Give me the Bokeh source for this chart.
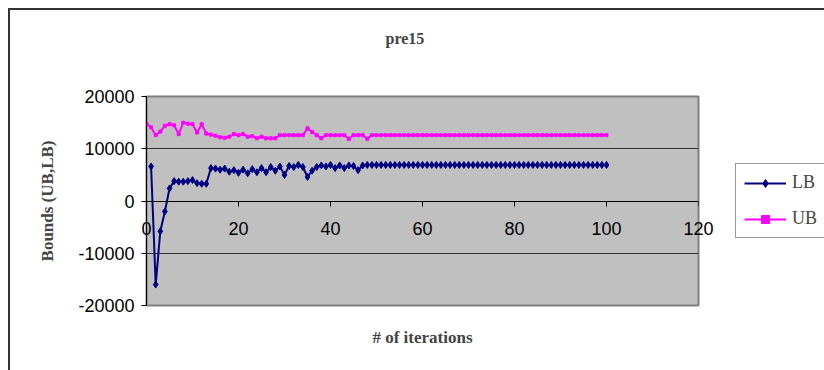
from bokeh.plotting import figure
from bokeh.models import (LinearAxis, FixedTicker, NumeralTickFormatter, Legend, LegendItem)
from bokeh.embed import file_html
from bokeh.resources import INLINE

title_text = "pre15"
x_label = "# of iterations"
y_label = "Bounds (UB,LB)"
x_ticks = [0, 20, 40, 60, 80, 100, 120]
y_ticks = [-20000, -10000, 0, 10000, 20000]

lb_iter = list(range(1, 101))
lb = [6600, -16000, -5800, -2000, 2400, 3800, 3700, 3700, 3800, 4000,
      3400, 3300, 3300, 6300, 6200, 6000, 6200, 5600, 5900, 5400,
      6000, 5300, 6100, 5500, 6300, 5500, 6500, 5800, 6600, 5000,
      6700, 6500, 6900, 6500, 4600, 5800, 6500, 6800, 6600, 6900,
      6300, 6800, 6300, 6800, 6700, 5900, 6800, 6900, 6900, 6900,
      6900, 6900, 6900, 6900, 6900, 6900, 6900, 6900, 6900, 6900,
      6900, 6900, 6900, 6900, 6900, 6900, 6900, 6900, 6900, 6900,
      6900, 6900, 6900, 6900, 6900, 6900, 6900, 6900, 6900, 6900,
      6900, 6900, 6900, 6900, 6900, 6900, 6900, 6900, 6900, 6900,
      6900, 6900, 6900, 6900, 6900, 6900, 6900, 6900, 6900, 6900]

ub_iter = list(range(0, 101))
ub = [14800, 14100, 12600, 13300, 14400, 14700, 14500, 12800, 15000, 14800,
      14700, 13100, 14700, 12900, 12700, 12500, 12200, 12100, 12300, 12800,
      12600, 12800, 12300, 12400, 12000, 12300, 12000, 12000, 12000, 12600,
      12600, 12600, 12600, 12600, 12600, 13900, 13200, 12600, 12000, 12600,
      12600, 12600, 12600, 12600, 11900, 12600, 12600, 12600, 11900, 12600,
      12600, 12600, 12600, 12600, 12600, 12600, 12600, 12600, 12600, 12600,
      12600, 12600, 12600, 12600, 12600, 12600, 12600, 12600, 12600, 12600,
      12600, 12600, 12600, 12600, 12600, 12600, 12600, 12600, 12600, 12600,
      12600, 12600, 12600, 12600, 12600, 12600, 12600, 12600, 12600, 12600,
      12600, 12600, 12600, 12600, 12600, 12600, 12600, 12600, 12600, 12600,
      12600]

SERIF = "Liberation Serif"
SANS = "Liberation Sans"

p = figure(frame_width=552, frame_height=209, x_range=(0, 120), y_range=(-20000, 20000),
           output_backend="svg", toolbar_location=None, x_axis_location=None,
           min_border_left=136, min_border_top=86, min_border_right=126, min_border_bottom=65)
p.margin = (8, 0, 0, 8)
p.styles = {"border-left": "2px solid #333", "border-top": "2px solid #333"}

p.background_fill_color = "#C0C0C0"
p.border_fill_color = "white"
p.outline_line_color = "#808080"
p.outline_line_width = 2

# spacer axis above the plot area (invisible tick), so the title sits higher
spacer = LinearAxis(ticker=FixedTicker(ticks=[0]), axis_line_color=None,
                    major_tick_out=45, major_tick_in=0, minor_tick_out=0, minor_tick_in=0,
                    major_tick_line_color=None, major_label_standoff=0,
                    major_label_overrides={0: ""})
p.add_layout(spacer, "above")

p.title.text = title_text
p.title.text_font = SERIF
p.title.text_font_size = "16px"
p.title.text_font_style = "bold"
p.title.align = "left"
p.title.offset = 239

yax = p.yaxis[0]
yax.ticker = FixedTicker(ticks=y_ticks)
yax.formatter = NumeralTickFormatter(format="0")
yax.major_label_text_font = SANS
yax.major_label_text_font_size = "18px"
yax.major_label_text_color = "black"
yax.major_tick_out = 5
yax.major_tick_in = 0
yax.minor_tick_out = 0
yax.minor_tick_in = 0
yax.axis_line_color = "black"
yax.major_tick_line_color = "black"
yax.major_label_standoff = 7
yax.axis_label = y_label
yax.axis_label_text_font = SERIF
yax.axis_label_text_font_size = "17px"
yax.axis_label_text_font_style = "bold"
yax.axis_label_standoff = 18

p.xgrid.visible = False
p.ygrid.ticker = FixedTicker(ticks=y_ticks)
p.ygrid.grid_line_color = "#333333"
p.ygrid.grid_line_width = 1

# axis that only carries the x-axis title
lab_axis = LinearAxis(ticker=FixedTicker(ticks=[]), axis_line_color=None,
                      major_tick_out=0, major_tick_in=0, minor_tick_out=0, minor_tick_in=0,
                      axis_label=x_label, axis_label_text_font=SERIF,
                      axis_label_text_font_size="17px", axis_label_text_font_style="bold",
                      axis_label_standoff=22)
p.add_layout(lab_axis, "below")

# axis that carries the x tick labels, pulled up beside the zero line
lbl_axis = LinearAxis(ticker=FixedTicker(ticks=x_ticks), axis_line_color=None,
                      major_tick_out=0, major_tick_in=0, minor_tick_out=0, minor_tick_in=0,
                      major_label_text_font=SANS, major_label_text_font_size="18px",
                      major_label_text_color="black", major_label_standoff=-128)
p.add_layout(lbl_axis, "below")

# axis line and ticks at y = 0
xax = LinearAxis(ticker=FixedTicker(ticks=x_ticks), fixed_location=0,
                 major_tick_out=5, major_tick_in=0, minor_tick_out=0, minor_tick_in=0,
                 axis_line_color="black", major_tick_line_color="black",
                 major_label_overrides={t: "" for t in x_ticks})
p.add_layout(xax, "below")

lb_line = p.line(lb_iter, lb, line_color="#000080", line_width=2)
lb_pts = p.scatter(lb_iter, lb, marker="diamond", size=7, fill_color="#000080", line_color="#000080")
ub_line = p.line(ub_iter, ub, line_color="#FF00FF", line_width=2)
ub_pts = p.scatter(ub_iter, ub, marker="square", size=3, fill_color="#FF00FF", line_color="#FF00FF")

legend = Legend(items=[LegendItem(label="LB", renderers=[lb_line, lb_pts]),
                       LegendItem(label="UB", renderers=[ub_line, ub_pts])],
                location=(37, 67), margin=0, padding=8, spacing=15,
                glyph_width=42, glyph_height=20, label_height=20, label_standoff=6,
                label_text_font=SERIF, label_text_font_size="18px",
                border_line_color="#333333", border_line_width=1,
                background_fill_color="white", background_fill_alpha=1)
p.add_layout(legend, "right")

open("out.html", "w").write(file_html(p, INLINE))
